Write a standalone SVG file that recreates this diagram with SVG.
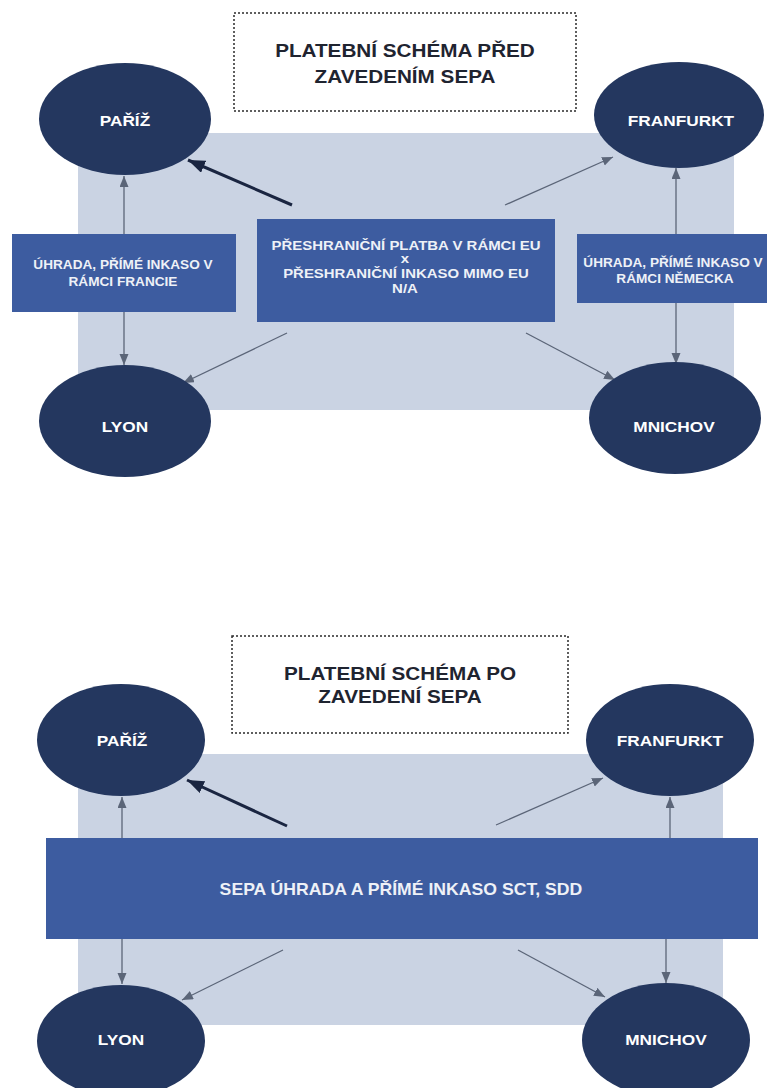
<svg xmlns="http://www.w3.org/2000/svg" width="767" height="1088" viewBox="0 0 767 1088">
<style>
  .bg { fill: #cad3e3; }
  .title-box { fill: #ffffff; stroke: #2a2a2a; stroke-width: 1.5; stroke-dasharray: 2 2; }
  .title { font-family: "Liberation Sans", Arial, sans-serif; font-weight: bold; font-size: 18px; fill: #1f2430; text-anchor: middle; }
  .node { fill: #24375f; }
  .node-label { font-family: "Liberation Sans", Arial, sans-serif; font-weight: bold; font-size: 15px; fill: #ffffff; text-anchor: middle; }
  .box { fill: #3d5ca0; }
  .box-label { font-family: "Liberation Sans", Arial, sans-serif; font-weight: bold; font-size: 13px; fill: #eef1f7; text-anchor: middle; }
  .side-label { font-family: "Liberation Sans", Arial, sans-serif; font-weight: bold; font-size: 12.5px; fill: #eef1f7; text-anchor: middle; }
  .band-label { font-family: "Liberation Sans", Arial, sans-serif; font-weight: bold; font-size: 16.5px; fill: #eef1f7; text-anchor: middle; }
  .wide { transform: scaleX(1.15); transform-box: fill-box; transform-origin: center; }
  .wide1 { transform: scaleX(1.09); transform-box: fill-box; transform-origin: center; }
  .wide2 { transform: scaleX(1.07); transform-box: fill-box; transform-origin: center; }
  .conn { stroke: #5b6578; stroke-width: 1.3; fill: none; marker-end: url(#arr); }
  .conn-strong { stroke: #1a2541; stroke-width: 3; fill: none; marker-end: url(#arrBig); }
</style>
<defs>
  <marker id="arr" markerUnits="userSpaceOnUse" markerWidth="12" markerHeight="10" refX="11" refY="4.5" orient="auto">
    <path d="M0,0 L11,4.5 L0,9 z" fill="#5b6578"/>
  </marker>
  <marker id="arrBig" markerUnits="userSpaceOnUse" markerWidth="18" markerHeight="14" refX="17" refY="6.5" orient="auto">
    <path d="M0,0 L17,6.5 L0,13 z" fill="#1a2541"/>
  </marker>
</defs>

<!-- ===== TOP DIAGRAM ===== -->
<rect class="bg" x="78" y="133" width="656" height="277"/>
<g id="title-top">
  <rect class="title-box" x="234" y="13" width="342" height="98"/>
  <text class="title wide" x="405" y="57">PLATEBNÍ SCHÉMA PŘED</text>
  <text class="title wide" x="405" y="83">ZAVEDENÍM SEPA</text>
</g>

<g id="box-francie">
  <rect class="box" x="12" y="234" width="224" height="78"/>
  <text class="side-label wide1" x="123" y="269">ÚHRADA, PŘÍMÉ INKASO V</text>
  <text class="side-label wide1" x="123" y="286">RÁMCI FRANCIE</text>
</g>
<g id="box-eu">
  <rect class="box" x="257" y="219" width="298" height="103"/>
  <text class="box-label wide" x="406" y="250">PŘESHRANIČNÍ PLATBA V RÁMCI EU</text>
  <text class="box-label wide" x="405" y="263">x</text>
  <text class="box-label wide" x="406" y="278">PŘESHRANIČNÍ INKASO MIMO EU</text>
  <text class="box-label wide" x="405" y="293">N/A</text>
</g>
<g id="box-nemecko">
  <rect class="box" x="577" y="234" width="190" height="69"/>
  <text class="side-label wide1" x="673" y="267">ÚHRADA, PŘÍMÉ INKASO V</text>
  <text class="side-label wide1" x="675" y="283">RÁMCI NĚMECKA</text>
</g>

<g id="connectors-top">
  <line class="conn" x1="124" y1="234" x2="124" y2="176"/>
  <line class="conn" x1="124" y1="312" x2="124" y2="365"/>
  <line class="conn-strong" x1="292" y1="205" x2="188" y2="160"/>
  <line class="conn" x1="505" y1="205" x2="613" y2="157"/>
  <line class="conn" x1="676" y1="234" x2="676" y2="168"/>
  <line class="conn" x1="676" y1="303" x2="676" y2="364"/>
  <line class="conn" x1="287" y1="333" x2="183" y2="383"/>
  <line class="conn" x1="526" y1="333" x2="615" y2="380"/>
</g>

<g id="node-pariz-top">
  <ellipse class="node" cx="125" cy="119" rx="86" ry="56"/>
  <text class="node-label wide" x="125" y="126">PAŘÍŽ</text>
</g>
<g id="node-frankfurt-top">
  <ellipse class="node" cx="679" cy="115" rx="85" ry="53"/>
  <text class="node-label wide" x="681" y="126">FRANFURKT</text>
</g>
<g id="node-lyon-top">
  <ellipse class="node" cx="125" cy="421" rx="86" ry="56"/>
  <text class="node-label wide" x="125" y="432">LYON</text>
</g>
<g id="node-mnichov-top">
  <ellipse class="node" cx="675" cy="418" rx="86" ry="56"/>
  <text class="node-label wide" x="674" y="432">MNICHOV</text>
</g>

<!-- ===== BOTTOM DIAGRAM ===== -->
<rect class="bg" x="78" y="754" width="645" height="271"/>
<g id="title-bottom">
  <rect class="title-box" x="232" y="636" width="336" height="97"/>
  <text class="title wide" x="400" y="680">PLATEBNÍ SCHÉMA PO</text>
  <text class="title wide" x="400" y="703">ZAVEDENÍ SEPA</text>
</g>

<g id="band-sepa">
  <rect class="box" x="46" y="838" width="712" height="101"/>
  <text class="band-label wide2" x="401" y="895">SEPA ÚHRADA A PŘÍMÉ INKASO SCT, SDD</text>
</g>

<g id="connectors-bottom">
  <line class="conn" x1="122" y1="838" x2="122" y2="797"/>
  <line class="conn" x1="122" y1="939" x2="122" y2="984"/>
  <line class="conn-strong" x1="287" y1="826" x2="187" y2="780"/>
  <line class="conn" x1="496" y1="825" x2="603" y2="778"/>
  <line class="conn" x1="670" y1="838" x2="670" y2="797"/>
  <line class="conn" x1="666" y1="939" x2="666" y2="983"/>
  <line class="conn" x1="283" y1="950" x2="182" y2="1000"/>
  <line class="conn" x1="518" y1="950" x2="605" y2="997"/>
</g>

<g id="node-pariz-bottom">
  <ellipse class="node" cx="121" cy="740" rx="84" ry="56"/>
  <text class="node-label wide" x="122" y="746">PAŘÍŽ</text>
</g>
<g id="node-frankfurt-bottom">
  <ellipse class="node" cx="670" cy="740" rx="84" ry="56"/>
  <text class="node-label wide" x="670" y="746">FRANFURKT</text>
</g>
<g id="node-lyon-bottom">
  <ellipse class="node" cx="121" cy="1041" rx="84" ry="56"/>
  <text class="node-label wide" x="121" y="1045">LYON</text>
</g>
<g id="node-mnichov-bottom">
  <ellipse class="node" cx="666" cy="1040" rx="84" ry="57"/>
  <text class="node-label wide" x="666" y="1045">MNICHOV</text>
</g>
</svg>
